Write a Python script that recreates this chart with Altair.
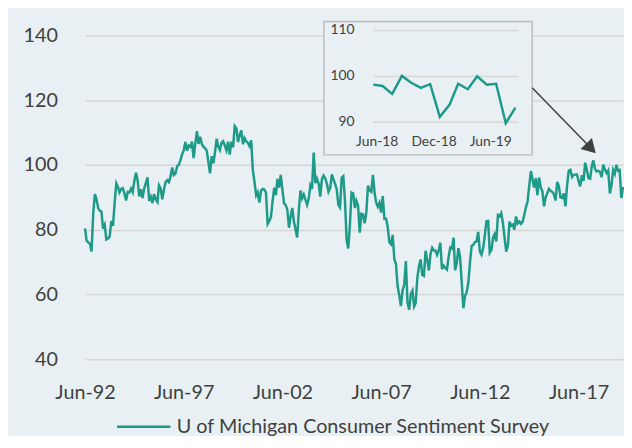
import altair as alt
import pandas as pd

# ---------------- data ----------------
series_name = "U of Michigan Consumer Sentiment Survey"
start_month = "1992-06-01"
sentiment = [
    80.4, 76.6, 76.1, 75.6, 73.3, 85.3, 91.0,
    89.3, 86.6, 85.9, 85.6, 80.3, 81.5, 77.0, 77.3, 77.9, 82.7, 81.2, 88.2,
    94.3, 93.2, 91.5, 92.6, 92.8, 91.2, 89.0, 91.7, 91.5, 92.7, 91.6, 95.1,
    97.6, 95.1, 90.3, 92.5, 89.8, 92.7, 94.4, 96.2, 88.9, 90.2, 88.2, 91.0,
    89.3, 88.5, 93.7, 92.7, 89.4, 92.4, 94.7, 95.3, 94.7, 96.5, 99.2, 96.9,
    97.4, 99.7, 100.0, 101.4, 103.2, 104.5, 107.1, 104.4, 106.0, 105.6, 107.2, 102.1,
    106.6, 110.4, 106.5, 108.7, 106.5, 105.6, 105.2, 104.4, 100.9, 97.4, 102.7, 100.5,
    103.9, 108.1, 105.7, 104.6, 106.8, 107.3, 106.0, 104.5, 107.2, 103.2, 107.2, 105.4,
    112.0, 111.3, 107.1, 109.2, 110.7, 106.4, 108.3, 107.3, 106.8, 105.8, 107.6, 98.4,
    94.7, 90.6, 91.5, 88.4, 92.0, 92.6, 92.4, 91.5, 81.8, 82.7, 83.9, 88.8,
    93.0, 90.7, 95.7, 93.0, 96.9, 92.4, 88.1, 87.6, 86.1, 80.6, 84.2, 86.7,
    82.4, 79.9, 77.6, 86.0, 92.1, 89.7, 90.9, 89.3, 87.7, 89.6, 93.7, 92.6,
    103.8, 94.4, 95.8, 94.2, 90.2, 95.6, 96.7, 95.9, 94.2, 91.7, 92.8, 97.1,
    95.5, 94.1, 92.6, 87.7, 86.9, 96.0, 96.5, 89.1, 76.9, 74.2, 81.6, 91.5,
    91.2, 86.7, 88.9, 87.4, 79.1, 84.9, 84.7, 82.0, 85.4, 93.6, 92.1, 91.7,
    96.9, 91.3, 88.4, 87.1, 88.3, 85.3, 90.4, 83.4, 83.4, 80.9, 76.1, 75.5,
    78.4, 70.8, 69.5, 62.6, 59.8, 56.4, 61.2, 63.0, 70.3, 57.6, 55.3, 60.1,
    61.2, 56.3, 57.3, 65.1, 68.7, 70.8, 66.0, 65.7, 73.5, 70.6, 67.4, 72.5,
    74.4, 73.6, 73.6, 72.2, 73.6, 76.0, 67.8, 68.9, 68.2, 67.7, 71.6, 74.5,
    74.2, 77.5, 67.5, 69.8, 74.3, 71.5, 63.7, 55.8, 59.5, 60.8, 63.7, 69.9,
    75.0, 75.3, 76.2, 76.4, 79.3, 73.2, 72.3, 74.3, 78.3, 82.6, 82.7, 72.9,
    73.8, 77.6, 78.6, 76.4, 84.5, 84.1, 85.1, 82.1, 77.5, 73.2, 75.1, 82.5,
    81.2, 81.6, 80.0, 84.1, 81.9, 82.5, 81.8, 82.5, 84.6, 86.9, 88.8, 93.6,
    98.1, 95.4, 93.0, 95.9, 90.7, 96.1, 93.1, 91.9, 87.2, 90.0, 91.3, 92.6,
    92.0, 91.7, 91.0, 89.0, 94.7, 93.5, 90.0, 89.8, 91.2, 87.2, 93.8, 98.2,
    98.5, 96.3, 96.9, 97.0, 97.1, 95.0, 93.4, 96.8, 95.1, 100.7, 98.5, 95.9,
    95.7, 99.7, 101.4, 98.8, 98.0, 98.2, 97.9, 96.2, 100.1, 98.6, 97.5, 98.3,
    91.2, 93.8, 98.4, 97.2, 100.0, 98.2, 98.4, 89.8, 93.2,
]
main_tick_years = [1992, 1997, 2002, 2007, 2012, 2017]
main_y_ticks = [40, 60, 80, 100, 120, 140]

inset_start = "2018-06-01"
inset_values = [98.2, 97.9, 96.2, 100.1, 98.6, 97.5, 98.3, 91.2,
                93.8, 98.4, 97.2, 100.0, 98.2, 98.4, 89.8, 93.2]
inset_y_ticks = [90, 100, 110]
inset_x_ticks = ["2018-06-01", "2018-12-01", "2019-06-01"]
inset_x_labels = ["Jun-18", "Dec-18", "Jun-19"]

# ---------------- style ----------------
BG = "#e8f0f3"
TEAL = "#1e9a88"
GRID = "#d6d6d6"
TEXT = "#404040"
FONT = "Lato"

main_dates = pd.date_range(start_month, periods=len(sentiment), freq="MS").strftime("%Y-%m-%d")
main_df = pd.DataFrame({"date": main_dates, "value": sentiment, "series": series_name})

inset_dates = pd.date_range(inset_start, periods=len(inset_values), freq="MS").strftime("%Y-%m-%d")
inset_df = pd.DataFrame({"date": inset_dates, "value": inset_values})

main_line = alt.Chart(main_df).mark_line(strokeWidth=2.5).encode(
    x=alt.X(
        "date:T",
        scale=alt.Scale(
            type="utc",
            domain=[alt.DateTime(year=1992, month=6, date=1, utc=True),
                    alt.DateTime(year=2019, month=9, date=1, utc=True)],
        ),
        axis=alt.Axis(
            values=[alt.DateTime(year=y, month=6, date=1, utc=True) for y in main_tick_years],
            format="%b-%y", title=None, grid=False, domain=False, ticks=False,
            labelFlush=False, labelOverlap=False,
            labelFontSize=20, labelColor=TEXT, labelFont=FONT, labelPadding=24,
        ),
    ),
    y=alt.Y(
        "value:Q",
        scale=alt.Scale(domain=[40, 140], nice=False, zero=False),
        axis=alt.Axis(
            values=main_y_ticks, title=None, grid=True, gridColor=GRID, gridWidth=1.5,
            domain=False, ticks=False, labelFontSize=20, labelColor=TEXT,
            labelFont=FONT, labelPadding=28,
        ),
    ),
    color=alt.Color(
        "series:N",
        scale=alt.Scale(domain=[series_name], range=[TEAL]),
        legend=alt.Legend(
            title=None, orient="none", legendX=31, legendY=368, symbolType="stroke",
            symbolSize=2916, symbolStrokeWidth=2.5, labelFontSize=20,
            labelColor=TEXT, labelFont=FONT, padding=0, labelOffset=5,
            labelLimit=600,
        ),
    ),
)

# ---------------- inset ----------------
ix_scale = alt.Scale(
    type="utc",
    domain=[alt.DateTime(year=2018, month=6, date=1, utc=True),
            alt.DateTime(year=2019, month=9, date=1, utc=True)],
    range=[292, 436],
)
iy_scale = alt.Scale(domain=[90, 110], range=[88, -5], nice=False, zero=False)

inset_box = alt.Chart(pd.DataFrame({"k": [0]})).mark_rect(
    fill=BG, stroke="#bdbdbd", strokeWidth=1.5
).encode(x=alt.value(242), x2=alt.value(453), y=alt.value(-14), y2=alt.value(121))

inset_grid = alt.Chart(pd.DataFrame({"v": inset_y_ticks})).mark_rule(
    color=GRID, strokeWidth=1.5
).encode(y=alt.Y("v:Q", scale=iy_scale, axis=None), x=alt.value(292), x2=alt.value(439))

inset_ylab = alt.Chart(pd.DataFrame({"v": inset_y_ticks})).mark_text(
    align="right", baseline="middle", fontSize=14, font=FONT, color=TEXT
).encode(y=alt.Y("v:Q", scale=iy_scale, axis=None), x=alt.value(273),
         text=alt.Text("v:Q"))

inset_xlab = alt.Chart(pd.DataFrame({"d": inset_x_ticks, "t": inset_x_labels})).mark_text(
    align="center", baseline="middle", fontSize=14, font=FONT, color=TEXT, dx=4
).encode(x=alt.X("d:T", scale=ix_scale, axis=None), y=alt.value(108), text="t:N")

inset_line = alt.Chart(inset_df).mark_line(color=TEAL, strokeWidth=2.5).encode(
    x=alt.X("date:T", scale=ix_scale, axis=None),
    y=alt.Y("value:Q", scale=iy_scale, axis=None),
)

inset = alt.layer(inset_box, inset_grid, inset_ylab, inset_xlab, inset_line)

# ---------------- arrow ----------------
arrow_line = alt.Chart(pd.DataFrame({"k": [0]})).mark_rule(
    color=TEXT, strokeWidth=1.5
).encode(x=alt.value(453), y=alt.value(53), x2=alt.value(512.6), y2=alt.value(114.4))

arrow_head = alt.Chart(pd.DataFrame({"k": [0]})).mark_point(
    shape="triangle-up", filled=True, fill=TEXT, color=TEXT, opacity=1,
    size=256, angle=136
).encode(x=alt.value(512.6), y=alt.value(114.4))

chart = alt.layer(main_line, inset, arrow_line, arrow_head).resolve_scale(
    x="independent", y="independent"
).properties(
    width=545, height=328,
    autosize=alt.AutoSizeParams(type="none"),
    padding={"left": 78, "top": 25, "right": 1, "bottom": 75},
    background=BG,
).configure_view(stroke=None)

chart.save("out.html", embed_options={"renderer": "svg", "actions": False})
